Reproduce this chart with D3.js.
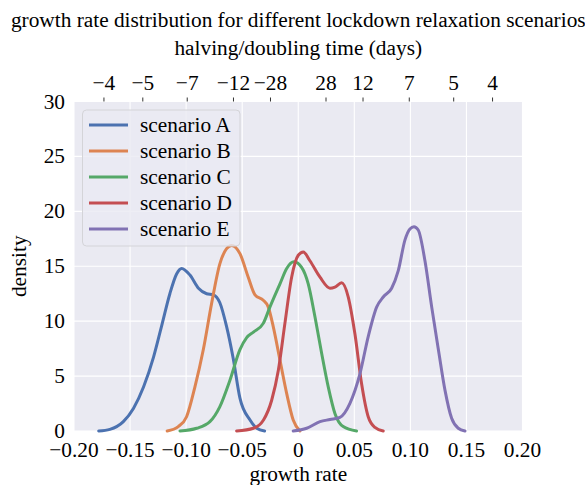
<html><head>
<meta charset="utf-8">
<script src="https://d3js.org/d3.v7.min.js"></script>
<style>
  body { margin: 0; background: #fff; }
  text { font-family: 'Liberation Serif', 'Times New Roman', serif; fill: #000; font-size: 21.33px; }
</style>
</head>
<body>
<script>
  // growth rate -> density points, one array per scenario
  const scenarioA = [[-0.178,0],[-0.168,0.15],[-0.156,0.85],[-0.147,2.05],[-0.138,4.0],[-0.129,6.75],[-0.122,9.5],[-0.1145,12.5],[-0.1085,14.3],[-0.104,14.8],[-0.0966,14.2],[-0.089,13.0],[-0.0817,12.5],[-0.0758,12.4],[-0.070,11.7],[-0.0639,9.5],[-0.058,6.6],[-0.052,3.0],[-0.043,1.0],[-0.037,0.25],[-0.030,0]]
  const scenarioB = [[-0.1169,0],[-0.107,0.4],[-0.0996,1.3],[-0.0922,4.0],[-0.0847,7.4],[-0.0773,11.6],[-0.070,15.2],[-0.0639,16.6],[-0.0594,16.9],[-0.052,16.15],[-0.0446,14.0],[-0.0386,12.4],[-0.0312,11.9],[-0.0268,11.3],[-0.0223,9.5],[-0.0163,6.45],[-0.0103,3.4],[-0.0045,1.0],[0.0015,0]]
  const scenarioC = [[-0.1055,0],[-0.0906,0.25],[-0.0788,0.85],[-0.070,2.2],[-0.061,4.6],[-0.052,7.4],[-0.046,8.5],[-0.040,9.0],[-0.0312,9.8],[-0.0252,11.3],[-0.0163,13.4],[-0.0103,14.8],[-0.0038,15.4],[0.003,14.9],[0.0089,13.4],[0.0149,10.4],[0.0209,7.06],[0.0268,4.0],[0.0327,1.6],[0.0401,0.4],[0.052,0]]
  const scenarioD = [[-0.055,0],[-0.040,0.25],[-0.031,1.0],[-0.0237,2.8],[-0.0178,5.5],[-0.0119,9.8],[-0.0059,14.0],[0,16.0],[0.0045,16.3],[0.0104,15.5],[0.0194,14.0],[0.0283,13.0],[0.0327,13.1],[0.0387,13.5],[0.0446,12.2],[0.0506,8.8],[0.0565,4.3],[0.0624,1.3],[0.0684,0.33],[0.0758,0]]
  const scenarioE = [[-0.0045,0],[0.0075,0.25],[0.0194,0.85],[0.0283,1.05],[0.0372,1.25],[0.046,2.5],[0.055,5.2],[0.0624,8.6],[0.070,11.3],[0.0758,12.2],[0.0833,13.0],[0.0892,14.6],[0.0952,17.4],[0.0996,18.4],[0.1032,18.6],[0.107,18.3],[0.113,15.5],[0.119,11.3],[0.125,7.4],[0.1309,3.7],[0.1368,1.15],[0.1427,0.25],[0.1487,0]]

  const names = ["scenario A", "scenario B", "scenario C", "scenario D", "scenario E"]
  const series = [scenarioA, scenarioB, scenarioC, scenarioD, scenarioE]
  const colors = ["#4C72B0", "#DD8452", "#55A868", "#C44E52", "#8172B3"]

  const xTicks = [-0.20, -0.15, -0.10, -0.05, 0, 0.05, 0.10, 0.15, 0.20]
  const yTicks = [0, 5, 10, 15, 20, 25, 30]
  const daysTicks = [-4, -5, -7, -12, -28, 28, 12, 7, 5, 4]

  const W = 585, H = 485
  const pLeft = 74, pRight = 522.5, pTop = 101.5, pBottom = 431

  const svg = d3.select("body").append("svg")
                .attr("width", W)
                .attr("height", H)

  const x = d3.scaleLinear().domain([-0.2, 0.2]).range([pLeft, pRight])
  const y = d3.scaleLinear().domain([0, 30]).range([pBottom, pTop])

  //Background + grid
  svg.append("rect")
     .attr("x", pLeft).attr("y", pTop)
     .attr("width", pRight - pLeft).attr("height", pBottom - pTop)
     .attr("fill", "#EAEAF2")

  svg.append("g").selectAll("line").data(xTicks).join("line")
     .attr("x1", d => x(d)).attr("x2", d => x(d))
     .attr("y1", pTop).attr("y2", pBottom)
     .attr("stroke", "#fff").attr("stroke-width", 1.1)
  svg.append("g").selectAll("line").data(yTicks).join("line")
     .attr("x1", pLeft).attr("x2", pRight)
     .attr("y1", d => y(d)).attr("y2", d => y(d))
     .attr("stroke", "#fff").attr("stroke-width", 1.1)

  const fmt = d => d === 0 ? "0" : d3.format(".2f")(d)

  //Bottom axis labels
  svg.append("g").selectAll("text").data(xTicks).join("text")
     .attr("x", d => x(d)).attr("y", 456.5)
     .attr("text-anchor", "middle")
     .text(fmt)

  //Left axis labels
  svg.append("g").selectAll("text").data(yTicks).join("text")
     .attr("x", 65).attr("y", d => y(d) + 7)
     .attr("text-anchor", "end")
     .text(d => d)

  //Top axis: halving/doubling time, placed at ln2/T
  svg.append("g").selectAll("line").data(daysTicks).join("line")
     .attr("x1", d => x(Math.LN2 / d)).attr("x2", d => x(Math.LN2 / d))
     .attr("y1", pTop - 4).attr("y2", pTop)
     .attr("stroke", "#333").attr("stroke-width", 1)
  svg.append("g").selectAll("text").data(daysTicks).join("text")
     .attr("x", d => x(Math.LN2 / d)).attr("y", 89.5)
     .attr("text-anchor", "middle")
     .text(d => String(d).replace("-", "\u2212"))

  //Curves
  const line = d3.line()
                 .x(d => x(d[0]))
                 .y(d => y(d[1]))
                 .curve(d3.curveMonotoneX)
  svg.append("g").selectAll("path").data(series).join("path")
     .attr("d", line)
     .attr("fill", "none")
     .attr("stroke", (d, i) => colors[i])
     .attr("stroke-width", 3)
     .attr("stroke-linecap", "round")
     .attr("stroke-linejoin", "round")

  //Titles
  svg.append("text")
     .attr("x", (pLeft + pRight) / 2).attr("y", 26.5)
     .attr("text-anchor", "middle")
     .text("growth rate distribution for different lockdown relaxation scenarios")
  svg.append("text")
     .attr("x", (pLeft + pRight) / 2).attr("y", 55)
     .attr("text-anchor", "middle")
     .text("halving/doubling time (days)")
  svg.append("text")
     .attr("x", (pLeft + pRight) / 2).attr("y", 481)
     .attr("text-anchor", "middle")
     .text("growth rate")
  svg.append("text")
     .attr("transform", "translate(26," + ((pTop + pBottom) / 2) + ") rotate(-90)")
     .attr("text-anchor", "middle")
     .text("density")

  //Legend
  const legend = svg.append("g")
  legend.append("rect")
        .attr("x", 82.5).attr("y", 110)
        .attr("width", 157.5).attr("height", 136)
        .attr("rx", 4)
        .attr("fill", "#EAEAF2").attr("fill-opacity", 0.8)
        .attr("stroke", "#d4d4d8")
  names.forEach((n, i) => {
    const ly = 125 + i * 26
    legend.append("line")
          .attr("x1", 89).attr("x2", 128)
          .attr("y1", ly).attr("y2", ly)
          .attr("stroke", colors[i]).attr("stroke-width", 3)
    legend.append("text")
          .attr("x", 140).attr("y", ly + 7)
          .text(n)
  })
</script>
</body></html>
